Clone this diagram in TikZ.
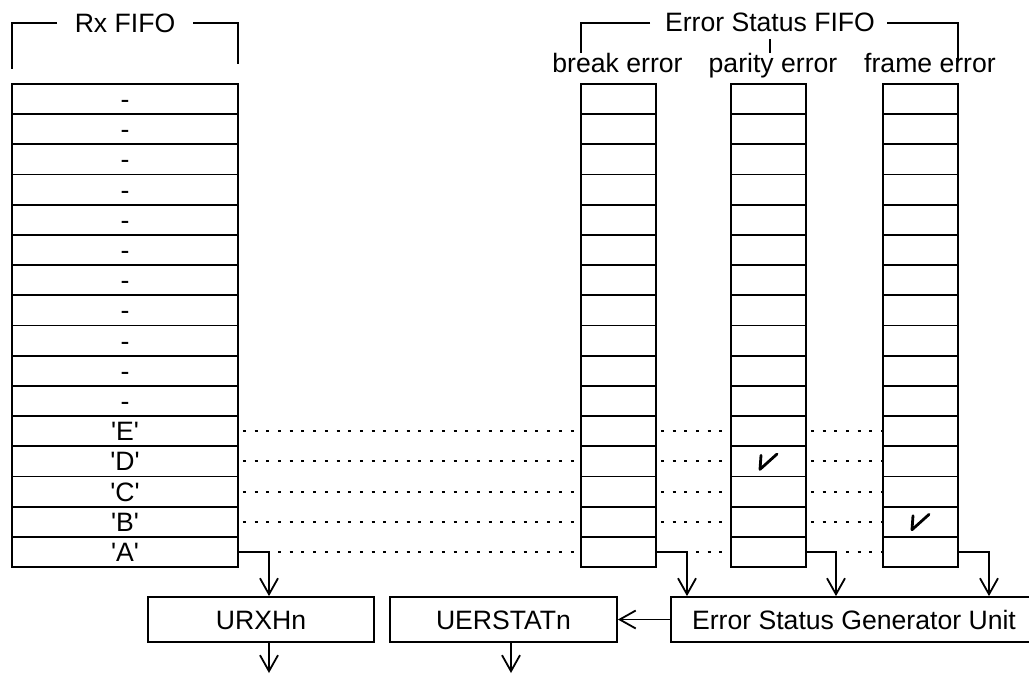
\documentclass[tikz,border=0pt]{standalone}
\usepackage{fontspec}
\newfontfamily\arialf{Liberation Sans}
\usetikzlibrary{arrows.meta}
\begin{document}
\begin{tikzpicture}[x=1pt,y=-1pt,
 every node/.style={font=\arialf\fontsize{26.6}{30}\selectfont, inner sep=0pt},
 line/.style={line width=1.8pt},
 cell/.style={draw, line width=1.8pt, minimum height=30.19pt, text height=19pt, text depth=0pt},
 rxcell/.style={cell, minimum width=226pt},
 ecell/.style={cell, minimum width=75pt},
 unit/.style={draw, line width=1.8pt, minimum height=45pt, text height=19pt, text depth=0pt},
 dots/.style={line width=2pt, dash pattern=on 3pt off 8.7pt, dash phase=-4pt},
 arr/.style={line width=1.8pt, -{Straight Barb[length=16pt,width=18pt,line width=1.8pt]}},
 tick/.style={line width=2.8pt, line cap=round, line join=round}]
\path[use as bounding box] (0,0) rectangle (1029,673);
\clip (0,0) rectangle (1029,673);
% FIFO cells
\foreach \i/\t in {1/-,2/-,3/-,4/-,5/-,6/-,7/-,8/-,9/-,10/-,11/-,12/{'E'},13/{'D'},14/{'C'},15/{'B'},16/{'A'}} {
  \pgfmathsetmacro\yc{84+(\i-0.5)*30.1875}
  \node[rxcell] (rx\i) at (125,\yc) {\t};
  \node[ecell] (be\i) at (618.5,\yc) {};
  \node[ecell] (pe\i) at (768.5,\yc) {};
  \node[ecell] (fe\i) at (920.5,\yc) {};
}
% dotted links
\foreach \i in {12,...,16} {
  \draw[dots] (rx\i.east) -- (be\i.west);
  \draw[dots] (be\i.east) -- (pe\i.west);
  \draw[dots] (pe\i.east) -- (fe\i.west);
}
% headers
\node[anchor=base] (rxh) at (125,32) {Rx FIFO};
\draw[line] (57,23) -- (12,23) -- (12,69);
\draw[line] (193,23) -- (238,23) -- (238,64);
\node[anchor=base] (esh) at (770,31.7) {Error Status FIFO};
\draw[line] (650,23) -- (581,23) -- (581,53);
\draw[line] (887,23) -- (958,23) -- (958,62);
\draw[line] (770,39) -- (770,53);
\node[anchor=base] (bel) at (617.5,72) {break error};
\node[anchor=base] (pel) at (773,72) {parity error};
\node[anchor=base] (fel) at (930,72) {frame error};
% check marks
\draw[tick] ([shift={(-7.5,-6)}]pe13.center) -- ([shift={(-8.5,8)}]pe13.center) -- ([shift={(8.5,-7.3)}]pe13.center);
\draw[tick] ([shift={(-7.5,-6)}]fe15.center) -- ([shift={(-8.5,8)}]fe15.center) -- ([shift={(8.5,-7.3)}]fe15.center);
% units
\node[unit, minimum width=226pt] (urx) at (261,619.5) {URXHn};
\node[unit, minimum width=227pt] (uer) at (503.5,619.5) {UERSTATn};
\node[unit, minimum width=366pt] (esg) at (854,619.5) {Error Status Generator Unit};
% connectors
\coordinate (k1) at (269,0);
\coordinate (k2) at (687,0);
\coordinate (k3) at (836,0);
\coordinate (k4) at (989,0);
\coordinate (o1) at (269,673);
\coordinate (o2) at (511,673);
\draw[arr] (rx16.east) -- (rx16.east -| k1) -- (k1 |- urx.north);
\draw[arr] (be16.east) -- (be16.east -| k2) -- (k2 |- esg.north);
\draw[arr] (pe16.east) -- (pe16.east -| k3) -- (k3 |- esg.north);
\draw[arr] (fe16.east) -- (fe16.east -| k4) -- (k4 |- esg.north);
\draw[arr] (esg.west) -- (uer.east);
\draw[arr] (o1 |- urx.south) -- (o1);
\draw[arr] (o2 |- uer.south) -- (o2);
\end{tikzpicture}
\end{document}
